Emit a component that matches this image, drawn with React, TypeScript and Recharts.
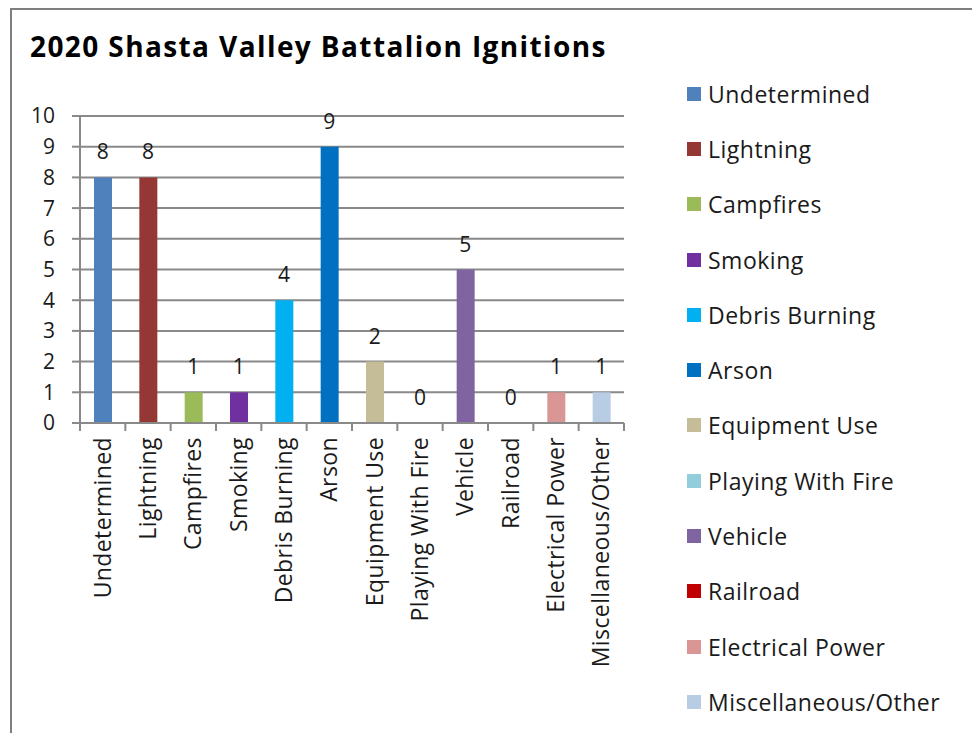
import * as React from "react";
import { Bar, CartesianGrid, Cell, ComposedChart, LabelList, Line, XAxis, YAxis } from "recharts";

const categories = [
  "Undetermined",
  "Lightning",
  "Campfires",
  "Smoking",
  "Debris Burning",
  "Arson",
  "Equipment Use",
  "Playing With Fire",
  "Vehicle",
  "Railroad",
  "Electrical Power",
  "Miscellaneous/Other",
];

const ignitions = [8, 8, 1, 1, 4, 9, 2, 0, 5, 0, 1, 1];

const colors = [
  "#4F81BD",
  "#953735",
  "#9BBB59",
  "#7030A0",
  "#00B0F0",
  "#0070C0",
  "#C4BD97",
  "#92CDDC",
  "#8064A2",
  "#C00000",
  "#DA9694",
  "#B8CCE4",
];

const yTicks = [0, 1, 2, 3, 4, 5, 6, 7, 8, 9, 10];

const FONT = "'Open Sans', 'DejaVu Sans', sans-serif";
const GRID = "#898989";
const TEXT = "#1a1a1a";

const CHART_W = 962;
const CHART_H = 723;
const MARGIN = { top: 106, right: 350, left: 8, bottom: 10 };
const Y_AXIS_W = 60;
const PLOT_W = CHART_W - MARGIN.left - Y_AXIS_W - MARGIN.right;
const BAND = PLOT_W / categories.length;

function CategoryTick(props: any) {
  const { x, y, payload } = props;
  const idx = payload?.index ?? props.index ?? 0;
  const axisY = y - 14;
  return (
    <g>
      <line x1={x - BAND / 2} x2={x - BAND / 2} y1={axisY} y2={axisY + 8} stroke={GRID} strokeWidth={2} />
      {idx === categories.length - 1 && (
        <line x1={x + BAND / 2} x2={x + BAND / 2} y1={axisY} y2={axisY + 8} stroke={GRID} strokeWidth={2} />
      )}
      <text
        x={x}
        y={y}
        dy="0.35em"
        transform={`rotate(-90, ${x}, ${y})`}
        textAnchor="end"
        fill={TEXT}
        fontSize={23}
        letterSpacing={0.4}
        fontFamily={FONT}
      >
        {payload.value}
      </text>
    </g>
  );
}

function CauseLegend() {
  return (
    <div
      style={{
        position: "absolute",
        left: 675,
        top: 56,
        fontFamily: FONT,
        fontSize: 23,
        letterSpacing: 0.5,
        color: TEXT,
      }}
    >
      {categories.map((c, i) => (
        <div key={c} style={{ display: "flex", alignItems: "center", height: 55.3, whiteSpace: "nowrap" }}>
          <span style={{ width: 14, height: 14, background: colors[i], marginRight: 7, display: "inline-block" }} />
          <span>{c}</span>
        </div>
      ))}
    </div>
  );
}

export default function App() {
  const data = categories.map((name, i) => ({ name, value: ignitions[i] }));

  return (
    <div
      style={{
        position: "relative",
        marginLeft: 2,
        width: CHART_W,
        height: CHART_H,
        border: "2px solid #7f7f7f",
        borderBottom: "none",
        background: "#fff",
      }}
    >
      <div
        style={{
          position: "absolute",
          left: 18,
          top: 21,
          fontFamily: FONT,
          fontWeight: "bold",
          fontSize: 28,
          letterSpacing: 1.4,
          lineHeight: "30px",
          color: "#000",
          whiteSpace: "nowrap",
        }}
      >
        2020 Shasta Valley Battalion Ignitions
      </div>
      <ComposedChart width={CHART_W} height={CHART_H} data={data} margin={MARGIN}>
        <CartesianGrid vertical={false} stroke={GRID} strokeWidth={2} />
        <XAxis
          dataKey="name"
          interval={0}
          height={300}
          tickLine={false}
          tickSize={8}
          tickMargin={6}
          axisLine={{ stroke: GRID, strokeWidth: 2 }}
          tick={<CategoryTick />}
        />
        <YAxis
          domain={[0, 10]}
          ticks={yTicks}
          width={Y_AXIS_W}
          tickSize={8}
          tickMargin={17}
          axisLine={{ stroke: GRID, strokeWidth: 2 }}
          tickLine={{ stroke: GRID, strokeWidth: 2 }}
          tick={{ fill: TEXT, fontSize: 21, fontFamily: FONT }}
        />
        <Bar dataKey="value" barSize={18} isAnimationActive={false}>
          {data.map((d, i) => (
            <Cell key={d.name} fill={colors[i]} />
          ))}
        </Bar>
        <Line dataKey="value" stroke="none" dot={false} activeDot={false} legendType="none" isAnimationActive={false}>
          <LabelList dataKey="value" position="top" offset={18} fill={TEXT} fontSize={21} fontFamily={FONT} />
        </Line>
      </ComposedChart>
      <CauseLegend />
    </div>
  );
}
